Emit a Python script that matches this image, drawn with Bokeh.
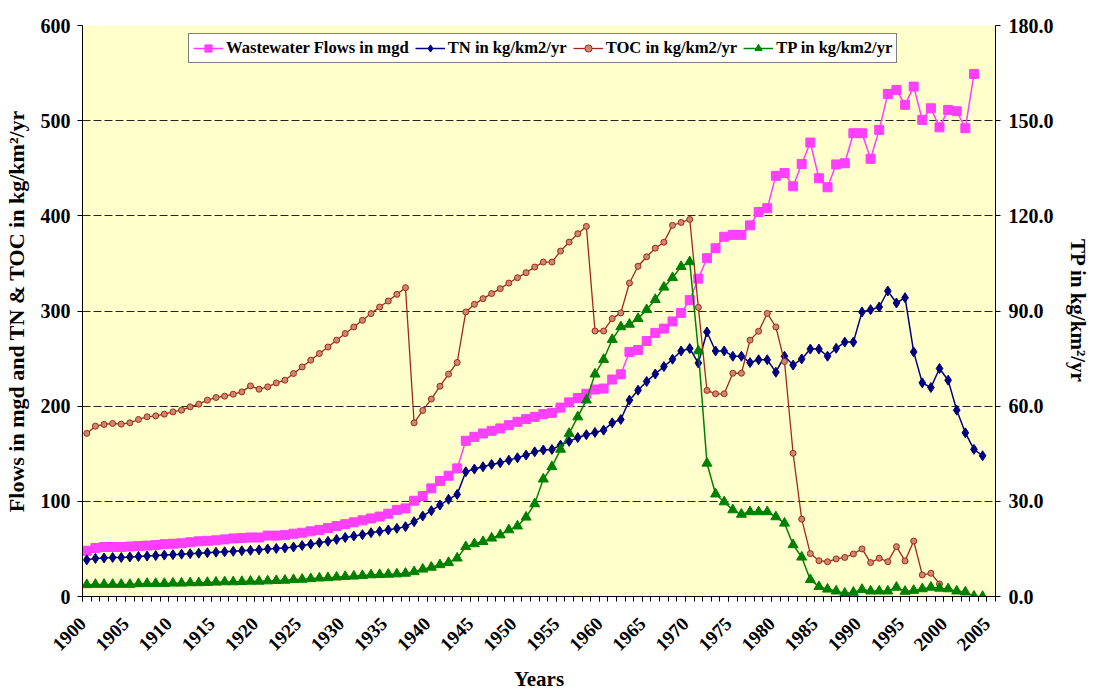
import math
from bokeh.plotting import figure
from bokeh.models import (Range1d, LinearAxis, FixedTicker, NumeralTickFormatter,
                          Legend, LegendItem, CustomJSTickFormatter)
from bokeh.embed import file_html
from bokeh.resources import INLINE

# ---------------- data ----------------
start_year = 1900
tick_years = list(range(1900, 2006, 5))

wastewater = [48, 51, 52, 52, 52, 52.5, 53, 53.5, 54, 55,
              55.5, 56, 57, 58, 58.5, 59, 60, 61, 61.5, 62,
              62, 64, 64, 64.5, 66, 67, 68.5, 70, 72, 74,
              76, 78, 80, 82, 84, 87, 91, 92.6, 100.6, 105.6,
              113.6, 121.3, 126.9, 134.6, 163.6, 167.8, 171.3, 174.1, 176.6, 180,
              183.6, 186.4, 188.8, 191.6, 193, 198.5, 204, 208.5, 213, 217.5,
              218.5, 228, 233.5, 257, 259, 268.5, 277, 281.5, 289, 298,
              311.5, 334, 355.5, 366, 378, 380, 380, 390, 404, 408,
              442, 445, 431, 454.5, 477, 439.5, 430, 454, 455.3, 486.8,
              486.8, 459.9, 490.3, 528.1, 532.3, 516.6, 535.8, 500.8, 513, 493,
              511.3, 509.9, 492, 549.1]

tn = [38.5, 40, 40.5, 41, 41, 41.5, 42, 42.5, 43, 43.5,
      44, 44.5, 45, 45.5, 46, 46.5, 47, 47.5, 48, 48.5,
      49, 50, 50.5, 51, 52, 53.5, 55, 56.5, 58, 60,
      62, 63.5, 65, 67, 68.5, 70, 71.6, 73.4, 78.6, 84.6,
      90.2, 96.1, 102.1, 107.3, 131.1, 133.9, 136.3, 138.8, 140.5, 143.3,
      145.8, 148.6, 152, 154, 154.5, 159, 163, 167, 170, 172.4,
      174.8, 182.5, 186, 206.3, 216.8, 226, 233.8, 241.6, 249.3, 258,
      260.6, 245.3, 278, 258, 258, 252.5, 252.5, 245.8, 248.8, 248.8,
      235.7, 252.5, 243.2, 249.6, 260, 260, 252.5, 260.8, 267.3, 267.3,
      299, 301.4, 304.2, 321, 308.4, 314, 257, 224.5, 219.6, 239.6,
      227.3, 195.8, 172, 154.6, 147.9]

toc = [171.4, 179, 180.8, 181.8, 181.1, 182.5, 186, 188.8, 189.8, 191.6,
       194, 195.8, 199.3, 202.1, 206.3, 209.1, 210.5, 212.6, 215, 221.3,
       217.8, 220.3, 224.4, 227.3, 234.3, 241.2, 248.3, 255.3, 262.2, 269.3,
       276.3, 283.2, 290.2, 297.3, 304.2, 310.5, 317.5, 324.5, 182.5, 195.5,
       207.5, 221, 233.6, 245.9, 299, 307, 313, 318.3, 323.5, 329.4,
       335, 340.3, 346.2, 351.4, 351.4, 363, 372.4, 381.2, 388.9, 279,
       279, 292, 298, 329.4, 347, 357, 366, 372.3, 390, 393,
       396.2, 303.8, 216.5, 213, 213, 234.6, 234.6, 269.4, 278.7, 297.4,
       283.2, 246.9, 150.5, 81.3, 45.1, 37.6, 36.5, 39.5, 41, 44.7,
       50, 35.6, 40.2, 36.6, 52.4, 37.4, 58.3, 22.7, 24.4, 13.2]

tp = [3.7, 3.8, 3.8, 3.8, 3.8, 3.8, 4.0, 4.1, 4.1, 4.1,
      4.2, 4.2, 4.3, 4.3, 4.4, 4.5, 4.6, 4.6, 4.7, 4.8,
      4.8, 4.9, 5.0, 5.1, 5.3, 5.4, 5.6, 5.8, 5.9, 6.1,
      6.3, 6.4, 6.6, 6.8, 6.9, 7.0, 7.1, 7.3, 7.8, 8.6,
      9.2, 10.0, 10.7, 12.1, 15.7, 16.6, 17.3, 18.4, 19.4, 21.0,
      22.2, 25.0, 29.2, 37.0, 40.9, 46.4, 51.4, 56.6, 61.9, 70.1,
      74.7, 81.0, 85.0, 85.8, 87.6, 90.4, 93.6, 97.5, 100.5, 104.0,
      105.5, 77.4, 42.0, 32.3, 29.8, 27.3, 25.9, 26.7, 26.7, 26.7,
      25.1, 23.1, 16.3, 12.4, 5.3, 3.1, 2.3, 1.7, 1.0, 1.3,
      2.2, 1.7, 1.7, 1.7, 2.9, 1.6, 1.9, 2.4, 2.9, 2.6,
      2.4, 1.7, 1.4, 0.1, 0.0]

left_ticks = [0, 100, 200, 300, 400, 500, 600]
grid_ticks = [100, 200, 300, 400, 500]
right_ticks = [0, 30, 60, 90, 120, 150, 180]

series_labels = ["Wastewater Flows in mgd", "TN in kg/km2/yr",
                 "TOC in kg/km2/yr", "TP in kg/km2/yr"]

def years_for(vals):
    return list(range(start_year, start_year + len(vals)))

# label anchors sit half a category to the left, on the yearly tick marks
LABEL_SHIFT = 0.5

# ---------------- figure ----------------
FONT = "Liberation Serif"

p = figure(width=1093, height=693, output_backend="svg", toolbar_location=None,
           x_range=Range1d(1899.5, 2005.5), y_range=Range1d(0, 600),
           min_border_left=81, min_border_right=98, min_border_top=25,
           min_border_bottom=96)
p.extra_y_ranges = {"tp": Range1d(0, 180)}
p.background_fill_color = "#FFFFCC"
p.border_fill_color = "white"
p.outline_line_color = None

# x axis
xa = p.xaxis[0]
xa.ticker = FixedTicker(ticks=[y - LABEL_SHIFT for y in tick_years],
                        minor_ticks=[y + 0.5 for y in range(1899, 2006)])
xa.formatter = CustomJSTickFormatter(
    code="return String(Math.round(tick + %s));" % LABEL_SHIFT)
xa.major_tick_out = 5
xa.major_tick_in = 0
xa.major_tick_line_color = "black"
xa.minor_tick_out = 5
xa.minor_tick_in = 0
xa.minor_tick_line_color = "black"
xa.axis_line_color = "black"
xa.major_label_orientation = math.pi / 4
xa.major_label_text_font = FONT
xa.major_label_text_font_style = "bold"
xa.major_label_text_font_size = "19px"
xa.major_label_text_color = "black"
xa.major_label_standoff = 19
xa.axis_label = "Years"
xa.axis_label_text_font = FONT
xa.axis_label_text_font_style = "bold"
xa.axis_label_text_font_size = "21px"
xa.axis_label_text_color = "black"
xa.axis_label_standoff = 7

# left axis
ya = p.yaxis[0]
ya.ticker = FixedTicker(ticks=left_ticks)
ya.minor_tick_line_color = None
ya.major_tick_out = 5
ya.major_tick_in = 0
ya.major_tick_line_color = "black"
ya.axis_line_color = "black"
ya.major_label_text_font = FONT
ya.major_label_text_font_style = "bold"
ya.major_label_text_font_size = "20px"
ya.major_label_text_color = "black"
ya.major_label_standoff = 7
ya.axis_label = "Flows in mgd and TN & TOC in kg/km\u00b2/yr"
ya.axis_label_text_font = FONT
ya.axis_label_text_font_style = "bold"
ya.axis_label_text_font_size = "22px"
ya.axis_label_text_color = "black"
ya.axis_label_standoff = 9

# right axis
ra = LinearAxis(y_range_name="tp", ticker=FixedTicker(ticks=right_ticks),
                formatter=NumeralTickFormatter(format="0.0"))
ra.minor_tick_line_color = None
ra.major_tick_out = 5
ra.major_tick_in = 0
ra.major_tick_line_color = "black"
ra.axis_line_color = "black"
ra.major_label_text_font = FONT
ra.major_label_text_font_style = "bold"
ra.major_label_text_font_size = "20px"
ra.major_label_text_color = "black"
ra.major_label_standoff = 8
ra.axis_label = "TP in kg/km\u00b2/yr"
ra.axis_label_text_font = FONT
ra.axis_label_text_font_style = "bold"
ra.axis_label_text_font_size = "21px"
ra.axis_label_text_color = "black"
ra.axis_label_standoff = 9
p.add_layout(ra, "right")

# grid
p.xgrid.grid_line_color = None
p.ygrid.ticker = FixedTicker(ticks=grid_ticks)
p.ygrid.grid_line_color = "black"
p.ygrid.grid_line_dash = "8 3"
p.ygrid.grid_line_width = 1
p.ygrid.grid_line_alpha = 0.85

# ---------------- series ----------------
PINK = "#FF3FFF"
NAVY = "#000080"
BROWN = "#A3261B"
GREEN = "#008000"

x_w = years_for(wastewater)
l1 = p.line(x_w, wastewater, line_color=PINK, line_width=1.5)
m1 = p.scatter(x_w, wastewater, marker="square", size=9, fill_color=PINK,
               line_color=PINK)

x_n = years_for(tn)
l2 = p.line(x_n, tn, line_color=NAVY, line_width=1.5)
m2 = p.scatter(x_n, tn, marker="diamond", size=10, fill_color=NAVY,
               line_color=NAVY)

x_c = years_for(toc)
l3 = p.line(x_c, toc, line_color=BROWN, line_width=1.3)
m3 = p.scatter(x_c, toc, marker="circle", size=6, fill_color="#C98A6E",
               line_color=BROWN, line_width=1)

x_p = years_for(tp)
l4 = p.line(x_p, tp, line_color=GREEN, line_width=1.5, y_range_name="tp")
m4 = p.scatter(x_p, tp, marker="triangle", size=10, fill_color=GREEN,
               line_color=GREEN, y_range_name="tp")

legend = Legend(items=[
    LegendItem(label=series_labels[0], renderers=[l1, m1]),
    LegendItem(label=series_labels[1], renderers=[l2, m2]),
    LegendItem(label=series_labels[2], renderers=[l3, m3]),
    LegendItem(label=series_labels[3], renderers=[l4, m4]),
], orientation="horizontal", location=(106, 533))
legend.label_text_font = FONT
legend.label_text_font_style = "bold"
legend.label_text_font_size = "16.6px"
legend.label_text_color = "black"
legend.label_height = 18
legend.glyph_height = 18
legend.glyph_width = 30
legend.label_standoff = 3
legend.spacing = 6
legend.padding = 4
legend.margin = 0
legend.border_line_color = "black"
legend.border_line_width = 1
legend.background_fill_color = "white"
legend.background_fill_alpha = 1
p.add_layout(legend, "center")

open("out.html", "w").write(file_html(p, INLINE))
